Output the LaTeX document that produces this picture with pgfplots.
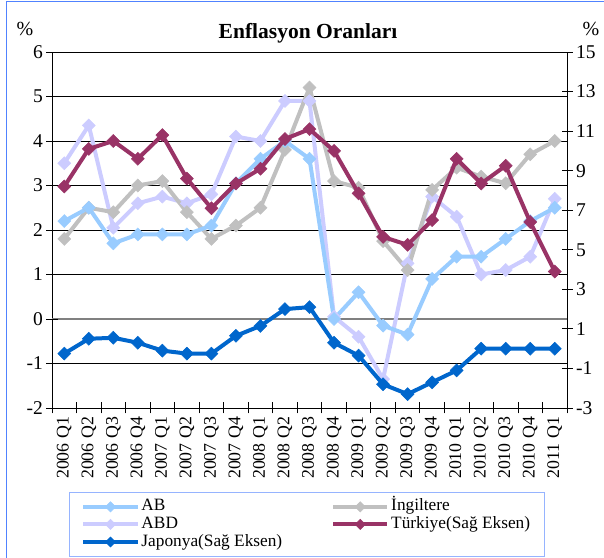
\documentclass[border=0pt]{standalone}
\usepackage{fontspec}
\setmainfont{Liberation Serif}
\usepackage{pgfplots}
\pgfplotsset{compat=1.18}
\definecolor{cAB}{RGB}{153,204,255}
\definecolor{cING}{RGB}{192,192,192}
\definecolor{cABD}{RGB}{204,204,255}
\definecolor{cTR}{RGB}{153,51,102}
\definecolor{cJP}{RGB}{0,102,204}
\definecolor{frameblue}{RGB}{80,130,255}
\definecolor{legblue}{RGB}{150,180,255}
\pgfplotsset{
  ser/.style={color=#1, line width=4bp, mark=square*, mark size=4.6bp,
    mark options={rotate=45, line width=0.5bp, solid, fill=#1}},
  common/.style={width=515bp, height=356bp, scale only axis,
    xmin=-0.5, xmax=20.5, tick align=center, major tick length=11bp,
    /pgf/number format/assume math mode=true,
    yticklabel={\pgfmathprintnumber[assume math mode=true]{\tick}},
    axis line style={black, line width=0.8bp},
    every tick/.style={black, line width=0.8bp},
    yticklabel style={font=\fontsize{19.5bp}{20bp}\selectfont}},
}
\pgfplotstableread{
i AB ING ABD TR JP
0 2.2 1.8 3.5 8.2 -0.25
1 2.5 2.5 4.35 10.1 0.5
2 1.7 2.4 2.05 10.5 0.55
3 1.9 3.0 2.6 9.6 0.3
4 1.9 3.1 2.75 10.8 -0.1
5 1.9 2.4 2.6 8.6 -0.25
6 2.1 1.8 2.8 7.1 -0.25
7 3.05 2.1 4.1 8.35 0.65
8 3.6 2.5 4.0 9.1 1.15
9 4.0 3.8 4.9 10.6 2.0
10 3.6 5.2 4.9 11.1 2.1
11 0.0 3.1 0.05 10.0 0.3
12 0.6 2.95 -0.4 7.85 -0.35
13 -0.15 1.75 -1.35 5.65 -1.8
14 -0.35 1.1 1.25 5.25 -2.3
15 0.9 2.9 2.75 6.5 -1.7
16 1.4 3.4 2.3 9.6 -1.1
17 1.4 3.2 1.0 8.35 0.0
18 1.8 3.05 1.1 9.25 0.0
19 2.2 3.7 1.4 6.4 0.0
20 2.5 4.0 2.7 3.9 0.0
}\data
\begin{document}
\begin{tikzpicture}[x=1bp,y=1bp]
\useasboundingbox (-52,-150) rectangle (552,408);
\draw[frameblue, line width=1bp] (-45,-155) -- (-45,406) -- (560,406);
\begin{axis}[common,
  ymin=-2, ymax=6, ytick={-2,...,6},
  ymajorgrids, major grid style={black, line width=0.8bp},
  extra y ticks={0}, extra y tick labels={},
  extra y tick style={major grid style={gray, line width=1.6bp}},
  xtick={-0.5,0.5,...,20.5}, x tick label as interval,
  xticklabels={2006 Q1,2006 Q2,2006 Q3,2006 Q4,2007 Q1,2007 Q2,2007 Q3,2007 Q4,2008 Q1,2008 Q2,2008 Q3,2008 Q4,2009 Q1,2009 Q2,2009 Q3,2009 Q4,2010 Q1,2010 Q2,2010 Q3,2010 Q4,2011 Q1},
  xticklabel style={rotate=90, anchor=east, font=\fontsize{17.8bp}{18bp}\selectfont},
  xtick pos=bottom, ytick pos=left]
\addplot[ser=cABD] table[x=i,y=ABD] {\data};
\addplot[ser=cING] table[x=i,y=ING] {\data};
\addplot[ser=cAB] table[x=i,y=AB] {\data};
\end{axis}
\begin{axis}[common,
  ymin=-3, ymax=15, ytick={-3,-1,...,15},
  axis y line*=right, axis x line=none,
  legend columns=2, legend cell align=left,
  legend image post style={mark size=3.6bp},
  legend image code/.code={\draw[mark repeat=2,mark phase=2] plot coordinates {(0bp,0bp) (27bp,0bp) (54bp,0bp)};},
  legend style={at={(0.033,-0.236)}, anchor=north west, draw=legblue, line width=1bp,
    font=\fontsize{17.3bp}{17.5bp}\selectfont, row sep=0bp, inner xsep=12bp, inner ysep=5.5bp,
    nodes={inner ysep=0.3bp, text height=12.5bp, text depth=4.5bp},
    /tikz/every even column/.append style={column sep=47bp}}]
\addlegendimage{ser=cAB}\addlegendentry{AB}
\addlegendimage{ser=cING}\addlegendentry{İngiltere}
\addlegendimage{ser=cABD}\addlegendentry{ABD}
\addplot[ser=cTR] table[x=i,y=TR] {\data};
\addlegendentry{Türkiye(Sağ Eksen)}
\addplot[ser=cJP] table[x=i,y=JP] {\data};
\addlegendentry{Japonya(Sağ Eksen)}
\end{axis}
\node[font=\bfseries\fontsize{21.5bp}{22bp}\selectfont] at (256,375) {Enflasyon Oranları};
\node[font=\fontsize{20bp}{20bp}\selectfont] at (-27,379) {\%};
\node[font=\fontsize{20bp}{20bp}\selectfont] at (539,379) {\%};
\end{tikzpicture}
\end{document}
